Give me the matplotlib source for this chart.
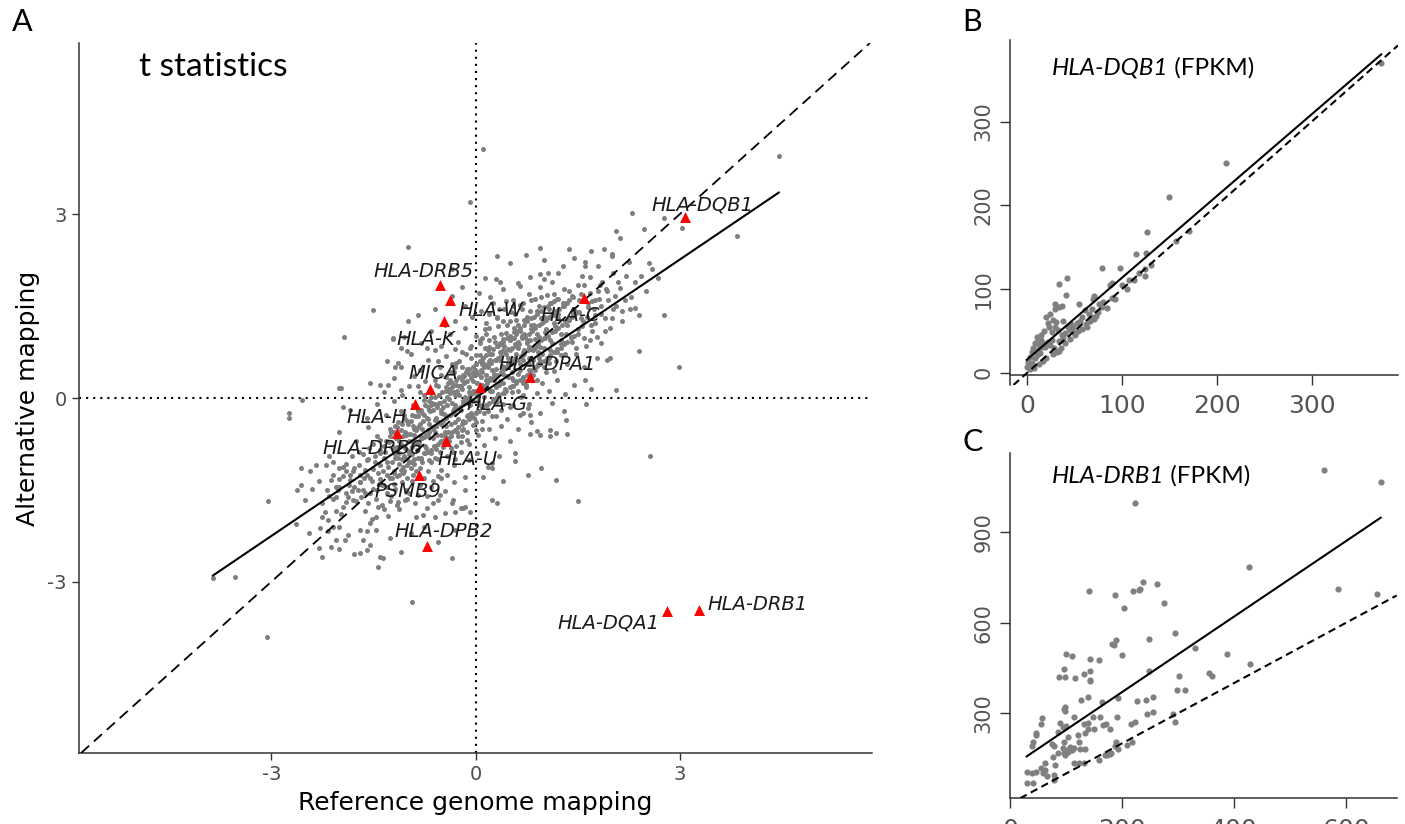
import numpy as np
import matplotlib.pyplot as plt

plt.rcParams['axes.unicode_minus'] = False
plt.rcParams['font.family'] = ['DejaVu Sans']

# ---- panel A: t statistics (reference vs alternative mapping) ----
# sparse points around the cloud
a_outer = [(-0.08, 3.21), (0.11, 4.07), (4.46, 3.96), (3.85, 2.65), (2.3, 3.03), (2.48, 2.76),
           (2.77, 2.94), (3.04, 2.77), (2.07, 2.73), (2.13, 2.62), (1.89, 2.43), (2.0, 2.36),
           (2.01, 2.32), (2.26, 2.23), (2.55, 2.2), (2.43, 2.0), (2.69, 1.96), (2.77, 1.36),
           (2.27, 1.45), (2.35, 1.47), (2.4, 0.77), (2.99, 0.5), (2.06, 0.13), (1.98, 0.65),
           (1.93, 0.62), (1.61, 0.29), (1.63, -0.09), (1.38, 2.43), (1.45, 2.28), (1.61, 2.23),
           (1.61, 2.15), (1.29, 2.15), (0.31, 2.32), (0.74, 2.34), (0.36, 1.9), (0.66, 1.83),
           (0.14, 1.96), (0.8, 1.97), (0.95, 2.02), (1.07, 2.04), (1.21, 2.05), (1.56, 2.0),
           (1.83, 1.85), (-0.99, 2.46), (-1.51, 1.43), (-0.99, 1.25), (-1.94, 0.99), (-1.21, 0.96),
           (-1.98, 0.17), (-2.55, -0.03), (-2.74, -0.25), (-2.74, -0.32), (-1.95, -0.14),
           (2.57, -0.94), (1.5, -1.68), (1.18, -1.34), (0.96, -1.15), (0.77, -1.26), (0.41, -1.36),
           (0.24, -1.66), (0.31, -1.72), (-0.34, -2.62), (-0.33, -1.66), (-0.3, -1.86),
           (-0.18, -1.8), (-0.08, -1.86), (0.58, -0.9), (0.58, -1.03), (0.24, -1.07), (0.24, -1.15),
           (0.8, -0.58), (0.9, -0.54), (0.95, -0.6), (1.09, -0.53), (1.09, -0.62), (1.19, -0.57),
           (1.35, -0.58), (1.3, -0.22), (1.33, -0.36), (-0.16, -1.29), (0.11, -1.29), (0.81, -0.39),
           (0.8, -0.28), (0.7, -0.25), (0.77, -0.17), (-3.05, -1.68), (-3.86, -2.94), (-3.54, -2.92),
           (-0.94, -3.33), (-3.07, -3.91), (-2.62, -1.5), (-2.56, -1.42), (-2.4, -1.48), (-2.51, -1.67),
           (-2.64, -2.06), (-2.26, -2.6), (-2.09, -1.04), (-2.0, -1.15), (-1.9, -1.2), (-2.12, -1.34),
           (-1.85, -1.34), (-1.8, -1.2), (-1.7, -1.37), (-2.02, -1.5), (-1.87, -1.61), (-1.8, -1.67),
           (-1.95, -1.78), (-2.05, -1.61), (-2.22, -1.86), (-2.17, -1.99), (-2.09, -2.1), (-2.17, -2.18),
           (-2.0, -2.1), (-1.87, -2.24), (-2.05, -2.32), (-2.12, -2.43), (-2.0, -2.46), (-1.7, -2.54),
           (-1.6, -2.48), (-1.65, -2.32), (-1.6, -2.18), (-1.43, -2.76), (-1.36, -2.62), (-1.46, -1.94),
           (-1.46, -2.16), (-1.55, -2.05), (-0.77, -1.91), (-0.6, -1.94), (-0.75, -2.1), (-0.21, -1.8),
           (-0.16, -1.78), (-0.62, -1.72), (-0.89, -1.72), (-1.04, -1.67), (-1.16, -1.75), (-1.26, -1.69),
           (-1.43, -1.78), (-2.44, -1.2), (-2.56, -1.15), (-2.34, -1.09), (-2.29, -2.13), (-1.41, -2.59),
           (-1.7, -2.16), (-1.21, 0.98), (-1.09, 0.81), (-1.14, 0.57), (-1.19, 0.51), (-1.01, 0.76),
           (-1.41, 0.21), (-1.28, 0.21), (-2.0, 0.16), (-1.09, 0.13), (-0.72, 0.81),
           (0.5, 2.2), (1.0, 2.25), (1.7, 2.4), (-0.35, 2.1), (0.95, 2.45), (1.8, 2.15)]

# dense central cloud
a_core = [(0.05, 1.72), (0.22, 1.65), (0.4, 1.78), (0.55, 1.6), (0.62, 1.88), (0.78, 1.7), (0.88, 1.62),
          (0.95, 1.82), (1.05, 1.68), (1.12, 1.9), (1.2, 1.62), (1.3, 1.78), (1.42, 1.66), (1.5, 1.85),
          (1.68, 1.72), (1.75, 1.6), (1.92, 1.78), (2.05, 1.66), (-0.2, 1.82), (-0.35, 1.66), (0.3, 1.95),
          (0.7, 1.55), (1.0, 1.95), (1.35, 1.55), (1.6, 1.58),
          (-0.85, 1.35), (-0.6, 1.45), (-0.3, 1.25), (-0.15, 1.5), (-0.05, 1.32), (0.08, 1.42), (0.15, 1.22),
          (0.25, 1.55), (0.32, 1.3), (0.42, 1.45), (0.5, 1.25), (0.58, 1.38), (0.66, 1.52), (0.72, 1.28),
          (0.8, 1.42), (0.86, 1.2), (0.93, 1.5), (1.0, 1.33), (1.08, 1.45), (1.15, 1.22), (1.22, 1.38),
          (1.3, 1.5), (1.38, 1.28), (1.46, 1.42), (1.55, 1.3), (1.65, 1.48), (1.75, 1.35), (1.85, 1.5),
          (2.0, 1.3), (2.15, 1.42), (0.2, 1.38), (0.62, 1.2), (1.1, 1.55), (0.45, 1.58), (-0.45, 1.2),
          (-1.05, 1.0), (-0.8, 0.9), (-0.65, 1.1), (-0.5, 0.85), (-0.38, 1.05), (-0.25, 0.92), (-0.15, 1.15),
          (-0.08, 0.82), (0.0, 1.02), (0.07, 0.9), (0.14, 1.12), (0.2, 0.84), (0.27, 1.0), (0.33, 1.18),
          (0.38, 0.88), (0.45, 1.06), (0.51, 0.95), (0.57, 1.15), (0.63, 0.82), (0.69, 1.02), (0.75, 0.9),
          (0.82, 1.12), (0.88, 0.97), (0.95, 0.84), (1.02, 1.08), (1.1, 0.95), (1.17, 1.18), (1.25, 0.88),
          (1.33, 1.05), (1.42, 0.92), (1.5, 1.12), (1.6, 0.98), (1.72, 1.1), (1.85, 0.9), (0.1, 0.98),
          (0.4, 0.96), (0.6, 1.05), (0.78, 0.84), (-0.3, 0.8), (1.0, 0.98),
          (-1.3, 0.6), (-1.1, 0.5), (-0.95, 0.72), (-0.82, 0.45), (-0.7, 0.62), (-0.6, 0.78), (-0.52, 0.5),
          (-0.44, 0.68), (-0.36, 0.42), (-0.28, 0.58), (-0.2, 0.75), (-0.13, 0.48), (-0.06, 0.65), (0.0, 0.44),
          (0.06, 0.7), (0.12, 0.55), (0.18, 0.78), (0.24, 0.46), (0.3, 0.62), (0.36, 0.75), (0.42, 0.5),
          (0.48, 0.66), (0.54, 0.42), (0.6, 0.72), (0.66, 0.55), (0.72, 0.78), (0.78, 0.46), (0.85, 0.62),
          (0.92, 0.75), (1.0, 0.5), (1.08, 0.66), (1.16, 0.44), (1.25, 0.7), (1.35, 0.56), (1.48, 0.72),
          (1.6, 0.5), (1.78, 0.66), (-0.3, 0.5), (0.2, 0.6), (0.5, 0.58), (0.95, 0.6), (-0.55, 0.6),
          (0.1, 0.42), (0.7, 0.62), (0.4, 0.78),
          (-1.55, 0.25), (-1.35, 0.1), (-1.2, 0.32), (-1.08, 0.05), (-0.98, 0.2), (-0.9, 0.36), (-0.82, 0.1),
          (-0.74, 0.28), (-0.66, 0.02), (-0.58, 0.22), (-0.5, 0.38), (-0.44, 0.12), (-0.37, 0.3), (-0.3, 0.05),
          (-0.24, 0.2), (-0.17, 0.36), (-0.1, 0.1), (-0.04, 0.28), (0.02, 0.04), (0.09, 0.22), (0.15, 0.38),
          (0.21, 0.12), (0.27, 0.3), (0.33, 0.06), (0.4, 0.24), (0.46, 0.36), (0.53, 0.1), (0.6, 0.28),
          (0.67, 0.02), (0.74, 0.18), (0.82, 0.34), (0.9, 0.08), (0.98, 0.25), (1.08, 0.12), (1.2, 0.3),
          (1.32, 0.06), (1.45, 0.22), (1.7, 0.15), (-0.6, 0.3), (-0.2, 0.15), (0.3, 0.18), (0.55, 0.3),
          (-0.85, 0.2), (0.05, 0.15), (-0.35, 0.18), (0.7, 0.25),
          (-1.85, -0.2), (-1.6, -0.32), (-1.45, -0.1), (-1.32, -0.28), (-1.2, -0.05), (-1.1, -0.22),
          (-1.0, -0.38), (-0.92, -0.12), (-0.84, -0.3), (-0.76, -0.04), (-0.68, -0.2), (-0.6, -0.36),
          (-0.53, -0.08), (-0.46, -0.26), (-0.39, -0.02), (-0.32, -0.18), (-0.25, -0.34), (-0.18, -0.1),
          (-0.11, -0.28), (-0.04, -0.05), (0.03, -0.22), (0.1, -0.38), (0.17, -0.12), (0.24, -0.3),
          (0.31, -0.06), (0.38, -0.2), (0.46, -0.35), (0.55, -0.12), (0.65, -0.28), (0.78, -0.1),
          (0.95, -0.25), (1.12, -0.08), (-0.7, -0.15), (-0.3, -0.12), (0.1, -0.15), (-1.05, -0.28),
          (-0.5, -0.2), (0.4, -0.1),
          (-2.0, -0.55), (-1.75, -0.7), (-1.58, -0.48), (-1.45, -0.62), (-1.35, -0.78), (-1.26, -0.5),
          (-1.17, -0.66), (-1.08, -0.42), (-1.0, -0.58), (-0.92, -0.74), (-0.84, -0.48), (-0.76, -0.64),
          (-0.68, -0.42), (-0.6, -0.56), (-0.52, -0.72), (-0.44, -0.46), (-0.36, -0.62), (-0.28, -0.78),
          (-0.2, -0.52), (-0.12, -0.68), (-0.04, -0.44), (0.04, -0.6), (0.12, -0.76), (0.2, -0.5),
          (0.28, -0.66), (0.38, -0.45), (0.5, -0.7), (0.62, -0.5), (-0.9, -0.6), (-0.5, -0.6), (-0.2, -0.62),
          (-1.2, -0.55), (0.0, -0.52), (-0.7, -0.52),
          (-2.15, -0.95), (-1.9, -1.08), (-1.72, -0.88), (-1.6, -1.02), (-1.5, -1.16), (-1.4, -0.9),
          (-1.3, -1.05), (-1.22, -0.84), (-1.14, -0.98), (-1.06, -1.12), (-0.98, -0.86), (-0.9, -1.0),
          (-0.82, -1.15), (-0.74, -0.9), (-0.66, -1.04), (-0.58, -0.84), (-0.5, -1.18), (-0.42, -0.95),
          (-0.32, -1.1), (-0.22, -0.88), (-0.1, -1.02), (0.02, -0.9), (0.18, -1.12), (0.35, -0.95),
          (-1.0, -1.0), (-1.35, -0.98), (-0.6, -0.98),
          (-2.3, -1.35), (-2.05, -1.45), (-1.95, -1.28), (-1.82, -1.52), (-1.7, -1.38), (-1.6, -1.25),
          (-1.5, -1.48), (-1.4, -1.32), (-1.3, -1.56), (-1.2, -1.4), (-1.12, -1.26), (-1.02, -1.5),
          (-0.94, -1.36), (-0.85, -1.58), (-0.76, -1.3), (-0.66, -1.45), (-0.55, -1.28), (-0.45, -1.52),
          (-0.32, -1.38), (-0.15, -1.5), (-1.65, -1.5), (-1.25, -1.3),
          (-2.25, -1.72), (-1.98, -1.9), (-1.75, -1.68), (-1.62, -1.85), (-1.52, -1.98), (-1.38, -1.75),
          (-1.28, -1.92), (-1.12, -1.82), (-1.0, -1.65), (-0.88, -1.95), (-0.72, -1.8), (-0.55, -1.66),
          (-0.45, -1.88),
          (-2.45, -2.2), (-2.3, -2.45), (-1.92, -2.32), (-1.78, -2.55), (-1.55, -2.4), (-1.25, -2.28),
          (-1.1, -2.52), (-0.95, -2.2), (-0.55, -2.35), (-0.3, -2.15)]

# second pass over the densest part of the cloud
a_dense = [(-1.05, -0.95), (-0.98, -0.7), (-0.95, -1.15), (-0.9, -0.5), (-0.86, -0.85), (-0.82, -0.62),
           (-0.78, -1.05), (-0.74, -0.78), (-0.7, -0.35), (-0.66, -0.9), (-0.62, -0.66), (-0.58, -0.45),
           (-0.55, -1.0), (-0.51, -0.25), (-0.48, -0.8), (-0.45, -0.55), (-0.42, -0.12), (-0.39, -0.7),
           (-0.36, -0.42), (-0.33, -0.88), (-0.3, -0.26), (-0.27, -0.55), (-0.24, 0.05), (-0.21, -0.72),
           (-0.18, -0.38), (-0.15, -0.08), (-0.12, -0.55), (-0.09, 0.18), (-0.06, -0.25), (-0.03, 0.42),
           (0.0, -0.4), (0.03, 0.1), (0.06, -0.12), (0.09, 0.55), (0.12, 0.02), (0.15, 0.3), (0.18, -0.22),
           (0.21, 0.62), (0.24, 0.12), (0.27, 0.4), (0.3, -0.05), (0.33, 0.85), (0.36, 0.28), (0.39, 0.52),
           (0.42, 0.08), (0.45, 0.72), (0.48, 0.35), (0.51, 0.95), (0.54, 0.2), (0.57, 0.58), (0.6, 0.85),
           (0.63, 0.4), (0.66, 1.1), (0.69, 0.68), (0.72, 0.3), (0.75, 0.95), (0.78, 0.55), (0.81, 1.2),
           (0.84, 0.78), (0.87, 0.45), (0.9, 1.05), (0.93, 0.65), (0.96, 1.3), (1.0, 0.82), (1.04, 1.12),
           (1.08, 0.58), (1.12, 0.9), (1.16, 1.35), (1.2, 0.75), (1.25, 1.05), (-0.8, -0.2), (-0.6, -0.1),
           (-0.4, 0.25), (-0.2, 0.5), (0.0, 0.7), (0.2, 0.95), (0.4, 1.25), (-0.7, -1.2), (-0.5, -1.3),
           (-0.3, -1.0), (-0.1, -0.75), (0.1, -0.5), (0.3, -0.3), (0.5, -0.15), (0.7, 0.05), (0.9, 0.3),
           (-1.2, -1.2), (-1.0, -1.3), (-1.15, -0.8), (-1.3, -0.7), (-1.4, -1.1), (-0.35, 0.55),
           (-0.55, 0.2), (-0.75, 0.05), (0.15, 1.05), (0.35, 1.45), (0.55, 1.5), (1.3, 0.9),
           (-1.62, -1.18), (-1.57, -0.82), (-1.52, -1.35), (-1.48, -0.95), (-1.44, -1.22), (-1.4, -0.68),
           (-1.37, -1.42), (-1.33, -0.88), (-1.29, -1.12), (-1.26, -0.62), (-1.23, -1.3), (-1.19, -0.92),
           (-1.16, -0.48), (-1.13, -1.08), (-1.1, -0.75), (-1.07, -1.22), (-1.04, -0.55), (-1.01, -0.85),
           (-0.98, -1.05), (-0.95, -0.38), (-0.93, -0.92), (-0.9, -0.68), (-0.88, -1.2), (-0.85, -0.22),
           (-0.83, -0.75), (-0.8, -0.98), (-0.78, -0.5), (-0.75, -0.28), (-0.73, -0.82), (-0.7, -0.62),
           (-0.68, -1.02), (-0.65, -0.12), (-0.63, -0.48), (-0.61, -0.78), (-0.58, -0.32), (-0.56, -0.6),
           (-0.54, 0.05), (-0.52, -0.88), (-0.5, -0.42), (-0.48, -0.15), (-0.46, -0.68), (-0.44, 0.35),
           (-0.42, -0.3), (-0.4, -0.55), (-0.38, 0.12), (-0.36, -0.82), (-0.34, -0.08), (-0.32, 0.42),
           (-0.3, -0.4), (-0.28, 0.22), (-0.26, -0.62), (-0.24, 0.6), (-0.22, -0.2), (-0.2, 0.3),
           (-0.18, -0.5), (-0.16, 0.02), (-0.14, 0.72), (-0.12, -0.3), (-0.1, 0.4), (-0.08, -0.12),
           (-0.06, 0.85), (-0.04, 0.12), (-0.02, -0.32), (0.0, 0.55), (0.02, 0.25), (0.04, -0.05),
           (0.06, 0.95), (0.08, 0.35), (0.1, 0.62), (0.12, -0.25), (0.14, 0.82), (0.16, 0.18), (0.18, 0.5),
           (0.2, 1.15), (0.22, 0.32), (0.24, 0.72), (0.26, -0.02), (0.28, 0.92), (0.3, 0.48), (0.32, 1.32),
           (0.34, 0.22), (0.36, 0.62), (0.38, 1.05), (0.4, 0.4), (0.42, 0.85), (0.44, 0.15), (0.46, 1.2),
           (0.48, 0.55), (0.5, 0.78), (0.52, 1.4), (0.54, 0.32), (0.56, 0.98), (0.58, 0.65), (0.6, 1.28),
           (0.62, 0.12), (0.64, 0.88), (0.66, 0.45), (0.68, 1.45), (0.7, 0.75), (0.72, 1.05), (0.74, 0.22),
           (0.76, 1.32), (0.78, 0.65), (0.8, 0.95), (0.82, 1.6), (0.84, 0.38), (0.86, 1.18), (0.88, 0.82),
           (0.9, 1.42), (0.92, 0.55), (0.94, 1.0), (0.96, 1.65), (0.98, 0.72), (1.01, 1.25), (1.04, 0.42),
           (1.07, 1.48), (1.1, 0.78), (1.13, 1.1), (1.16, 1.7), (1.19, 0.6), (1.22, 1.3), (1.25, 0.95),
           (1.28, 1.55), (1.31, 0.72), (1.34, 1.2), (1.37, 1.75), (1.4, 1.0), (1.44, 1.38), (1.48, 0.82),
           (1.52, 1.6), (1.56, 1.18), (1.6, 1.85), (1.64, 1.32), (1.68, 0.95), (1.72, 1.58), (1.76, 1.22),
           (1.8, 1.75), (1.85, 1.38), (1.9, 1.1), (1.95, 1.6), (2.02, 1.45), (2.1, 1.9), (2.2, 1.6),
           (-1.9, -1.55), (-1.85, -1.25), (-1.78, -1.45), (-1.72, -1.1), (-1.68, -1.62), (-1.64, -1.3),
           (-1.58, -1.72), (-1.55, -1.55), (-1.46, -1.65), (-1.42, -1.4), (-1.34, -1.82), (-1.3, -1.25),
           (-1.24, -1.6), (-1.18, -1.48), (-1.14, -1.7), (-1.08, -1.38), (-0.98, -1.55), (-0.92, -1.25),
           (-0.82, -1.42), (-0.72, -1.6), (-0.62, -1.35), (-0.52, -1.58), (-0.42, -1.25), (-0.35, -1.72),
           (-2.1, -1.65), (-2.0, -1.32), (-2.18, -1.5)]

# third pass: the solid middle of the cloud
a_fill = [(-1.25, -1.3), (-1.23, -1.05), (-1.27, -0.72), (-1.24, -0.55), (-1.2, -1.22), (-1.18, -0.98),
          (-1.22, -0.8), (-1.19, -0.45), (-1.15, -1.28), (-1.13, -0.9), (-1.17, -0.66), (-1.14, -0.4),
          (-1.1, -1.18), (-1.08, -1.0), (-1.12, -0.7), (-1.09, -0.52), (-1.05, -1.2), (-1.03, -0.82),
          (-1.07, -0.62), (-1.04, -0.35), (-1.0, -1.1), (-0.98, -0.92), (-1.02, -0.6), (-0.99, -0.42),
          (-0.95, -1.05), (-0.93, -0.8), (-0.97, -0.58), (-0.94, -0.28), (-0.9, -1.08), (-0.88, -0.75),
          (-0.92, -0.45), (-0.89, -0.3), (-0.85, -0.98), (-0.83, -0.7), (-0.87, -0.52), (-0.84, -0.18),
          (-0.8, -1.0), (-0.78, -0.65), (-0.82, -0.42), (-0.79, -0.25), (-0.75, -0.9), (-0.73, -0.6),
          (-0.77, -0.38), (-0.74, -0.12), (-0.7, -0.88), (-0.68, -0.55), (-0.72, -0.32), (-0.69, -0.05),
          (-0.65, -0.85), (-0.63, -0.5), (-0.67, -0.22), (-0.64, -0.08), (-0.6, -0.78), (-0.58, -0.45),
          (-0.62, -0.2), (-0.59, 0.02), (-0.55, -0.75), (-0.53, -0.4), (-0.57, -0.15), (-0.54, 0.05),
          (-0.5, -0.7), (-0.48, -0.38), (-0.52, -0.08), (-0.49, 0.1), (-0.45, -0.62), (-0.43, -0.32),
          (-0.47, -0.05), (-0.44, 0.18), (-0.4, -0.65), (-0.38, -0.28), (-0.42, 0.02), (-0.39, 0.15),
          (-0.35, -0.55), (-0.33, -0.22), (-0.37, 0.08), (-0.34, 0.25), (-0.3, -0.52), (-0.28, -0.18),
          (-0.32, 0.1), (-0.29, 0.3), (-0.25, -0.48), (-0.23, -0.14), (-0.27, 0.12), (-0.24, 0.35),
          (-0.2, -0.42), (-0.18, -0.05), (-0.22, 0.2), (-0.19, 0.38), (-0.15, -0.4), (-0.13, -0.02),
          (-0.17, 0.25), (-0.14, 0.42), (-0.1, -0.35), (-0.08, 0.05), (-0.12, 0.28), (-0.09, 0.48),
          (-0.05, -0.3), (-0.03, 0.08), (-0.07, 0.32), (-0.04, 0.5), (0.0, -0.25), (0.02, 0.12),
          (-0.02, 0.38), (0.01, 0.55), (0.05, -0.22), (0.07, 0.18), (0.03, 0.4), (0.06, 0.6),
          (0.1, -0.15), (0.12, 0.2), (0.08, 0.45), (0.11, 0.65), (0.15, -0.12), (0.17, 0.25),
          (0.13, 0.5), (0.16, 0.7), (0.2, -0.08), (0.22, 0.3), (0.18, 0.55), (0.21, 0.72),
          (0.25, -0.05), (0.27, 0.35), (0.23, 0.58), (0.26, 0.8), (0.3, 0.0), (0.32, 0.38),
          (0.28, 0.62), (0.31, 0.85), (0.35, 0.05), (0.37, 0.42), (0.33, 0.65), (0.36, 0.9),
          (0.4, 0.08), (0.42, 0.48), (0.38, 0.7), (0.41, 0.92), (0.45, 0.12), (0.47, 0.5),
          (0.43, 0.75), (0.46, 0.98), (0.5, 0.18), (0.52, 0.55), (0.48, 0.8), (0.51, 1.02),
          (0.55, 0.2), (0.57, 0.6), (0.53, 0.82), (0.56, 1.08), (0.6, 0.25), (0.62, 0.62),
          (0.58, 0.88), (0.61, 1.1), (0.65, 0.3), (0.67, 0.68), (0.63, 0.92), (0.66, 1.15),
          (0.7, 0.35), (0.72, 0.72), (0.68, 0.98), (0.71, 1.2), (0.75, 0.38), (0.77, 0.78),
          (0.73, 1.0), (0.76, 1.25), (0.8, 0.42), (0.82, 0.8), (0.78, 1.05), (0.81, 1.3),
          (0.85, 0.48), (0.87, 0.85), (0.83, 1.1), (0.86, 1.32), (0.9, 0.52), (0.92, 0.9),
          (0.88, 1.15), (0.91, 1.38), (0.95, 0.55), (0.97, 0.95), (0.93, 1.2), (0.96, 1.42),
          (1.0, 0.6), (1.02, 0.98), (0.98, 1.22), (1.01, 1.48), (1.05, 0.65), (1.07, 1.02),
          (1.03, 1.28), (1.06, 1.5), (1.1, 0.7), (1.12, 1.08), (1.08, 1.32), (1.11, 1.55),
          (1.15, 0.75), (1.17, 1.1), (1.13, 1.38), (1.16, 1.58), (1.2, 0.8), (1.22, 1.15),
          (1.18, 1.42), (1.21, 1.62), (1.25, 0.82), (1.27, 1.2), (1.23, 1.45), (1.3, 0.88),
          (1.32, 1.25), (1.28, 1.5), (1.35, 0.92), (1.37, 1.28), (1.33, 1.55), (1.4, 0.98),
          (1.42, 1.32), (1.38, 1.6), (1.45, 1.02), (1.47, 1.38), (1.43, 1.65),
          (-1.3, -1.45), (-1.32, -0.7), (-1.36, -1.2), (-1.4, -0.85), (-1.45, -1.5), (-1.48, -1.05),
          (-1.5, -0.75), (-1.55, -1.3), (-1.58, -1.0), (-1.62, -1.55), (-1.65, -0.92), (-1.7, -1.25),
          (-1.73, -1.5), (-1.78, -1.15), (-1.82, -0.95), (-1.86, -1.42), (-1.9, -1.7), (-1.95, -1.12),
          (-2.0, -1.45), (-2.05, -1.85), (-2.1, -1.25), (-2.15, -1.6), (-2.2, -1.1), (-2.25, -1.95),
          (1.5, 1.05), (1.52, 1.4), (1.55, 1.7), (1.58, 1.25), (1.62, 0.85), (1.65, 1.55), (1.68, 1.98),
          (1.7, 1.2), (1.74, 1.45), (1.78, 1.0), (1.82, 1.62), (1.86, 1.9), (1.9, 1.3), (1.94, 1.75),
          (1.98, 1.15), (2.02, 2.05), (2.06, 1.5), (2.12, 1.8), (2.16, 1.25), (2.22, 2.0), (2.28, 1.65),
          (2.35, 1.9), (2.4, 1.35), (2.5, 1.75), (2.6, 2.1)]

genes = ['HLA-DQB1', 'HLA-DRB5', 'HLA-W', 'HLA-K', 'HLA-C', 'MICA', 'HLA-G', 'HLA-DPA1',
         'HLA-H', 'HLA-DRB6', 'HLA-U', 'PSMB9', 'HLA-DPB2', 'HLA-DQA1', 'HLA-DRB1']
gene_x = [3.08, -0.525, -0.38, -0.47, 1.59, -0.67, 0.06, 0.8, -0.89, -1.16, -0.44, -0.83, -0.72, 2.82, 3.29]
gene_y = [2.95, 1.85, 1.6, 1.25, 1.63, 0.14, 0.18, 0.34, -0.09, -0.57, -0.71, -1.26, -2.41, -3.48, -3.46]
label_x = [3.33, -0.76, 0.22, -0.73, 1.39, -0.62, 0.31, 1.05, -1.45, -1.52, -0.11, -1.0, -0.47, 1.96, 4.14]
label_y = [3.06, 1.97, 1.34, 0.87, 1.25, 0.31, -0.2, 0.46, -0.41, -0.92, -1.09, -1.62, -2.27, -3.76, -3.46]

fit_a = (0.752, 0.003)   # slope, intercept of the solid regression line

# ---- panel B: HLA-DQB1 FPKM ----
b_pts = [(373.3, 369.7), (209.3, 250.9), (149.8, 209.5), (126.6, 168.4), (170.2, 169.6), (156.5, 157.7),
         (115, 141.4), (125.2, 143.4), (124.2, 123.5), (124.2, 115.5), (130.2, 128.6), (78.8, 124.7),
         (97.8, 125), (107, 110.7), (112.2, 110.7), (118, 119.5), (41.9, 112.7), (33.4, 105.5),
         (40.5, 92.5), (29.6, 81.7), (29.6, 75.7), (36.2, 79.3), (54.2, 82.5), (79.2, 79), (87.2, 104.7),
         (89.7, 107.5), (70.7, 91.6), (69.4, 88.4), (65.4, 69.7), (67.9, 66.1), (60.9, 74.9), (57.3, 66.9),
         (55.6, 62.2), (52, 59), (48.6, 55), (45, 51), (43.3, 55), (39.8, 47.8), (36.2, 45), (48.6, 49),
         (89, 89.6), (20.1, 66.9), (21.5, 59), (22.9, 55), (33.4, 79), (29.2, 55), (32.7, 51), (25.7, 49),
         (33.4, 38), (33.4, 26), (31, 25), (22.2, 37), (25.7, 39), (18.7, 31), (10.6, 43), (11.6, 37.8),
         (14.4, 39), (16.9, 35.9), (8.1, 35), (6.4, 29), (4.6, 25.1), (2.8, 19), (1.1, 13.2), (-0.7, 7.2),
         (4.6, 11.2), (8.1, 17.2), (11.6, 27), (15.2, 31), (9.9, 21), (13.4, 23.1), (62, 58), (66, 62),
         (72, 68), (75, 72), (70, 64), (58, 52), (45, 40), (40, 36), (50, 45), (28, 30), (27, 22), (20, 18),
         (17, 14), (12, 10), (7, 6), (3, 5), (5, 9), (24, 33), (35, 30), (38, 41), (53, 50), (63, 55),
         (80, 84), (84, 77), (76, 82), (92, 88), (100, 105), (105, 100), (68, 76), (30, 60), (27, 63),
         (24, 70), (14, 45), (18, 50), (12, 33), (38, 62), (46, 58)]
fit_b = (0.976, 16.0)

# ---- panel C: HLA-DRB1 FPKM ----
c_pts = [(560.7, 1106.5), (661.9, 1066.7), (223.8, 996), (426.8, 783.9), (585, 712), (656, 695),
         (140.5, 706.5), (186.9, 692.2), (220.2, 706.5), (231, 708.7), (236.9, 735), (233, 712),
         (262.5, 728.6), (203.6, 649), (275, 665.6), (294, 567), (247.6, 545), (329.8, 516.5),
         (386.9, 497.7), (428.6, 462.3), (181.5, 529), (185, 525), (189.3, 543), (199.4, 493),
         (99.4, 497.7), (110, 489), (142.9, 481), (158.3, 477.8), (97, 448), (88, 420), (98.2, 420),
         (116.7, 417), (131.5, 429), (142.9, 439), (142.3, 406), (143, 411), (248, 439), (301, 423.6),
         (355, 434.6), (360.8, 422.5), (139.9, 354), (127.4, 344), (164.3, 338.7), (192.9, 349.6),
         (227.4, 339.8), (243.5, 345), (256, 354), (298.8, 378), (312.5, 378), (98.2, 322), (97, 313),
         (98.8, 307.6), (114.9, 287.7), (57.7, 285.5), (55.4, 263.4), (45.8, 233.6), (47, 228), (41, 206),
         (39.9, 191.7), (89.9, 266.7), (95.2, 253.4), (100.6, 258), (85.1, 238), (74.4, 198), (78.6, 191.7),
         (103, 222.5), (97, 206), (94, 184), (101, 178), (96, 168), (99, 163), (104, 172), (110, 178),
         (107, 189.3), (115, 184), (120.8, 228), (123.8, 204.5), (125.6, 180.5), (134, 180.5),
         (132.7, 264.5), (139.9, 266.7), (133.9, 233.6), (138.7, 249), (147.6, 287), (150.6, 249),
         (161.3, 287), (166.7, 261.5), (178, 249), (171.4, 264.5), (191.7, 287.7), (186.9, 191.7),
         (193.5, 180.5), (189.3, 206), (208.9, 195), (217.3, 206), (216.7, 265.5), (223.8, 272),
         (254.8, 304.3), (244, 297.6), (290.5, 298.7), (294, 270), (158.3, 145), (170, 160), (174, 163),
         (178, 165), (181, 167), (114.9, 136), (123.2, 134), (132.7, 134), (86.3, 167), (77.4, 156),
         (62.5, 136), (55.4, 119.8), (58.3, 102), (62.5, 112), (65.5, 92), (80.4, 128.6), (79.2, 95),
         (78, 79), (29.8, 104), (39.9, 101), (46.4, 104), (31, 67.8), (41.7, 67.8)]
fit_c = (1.252, 119.7)

a_x, a_y = np.array(a_outer + a_core + a_dense + a_fill).T
b_x, b_y = np.array(b_pts).T
c_x, c_y = np.array(c_pts).T

W, H = 1405, 824
fig = plt.figure(figsize=(W / 100, H / 100), dpi=100)
axA = fig.add_axes([79 / W, 1 - 753 / H, 793 / W, 710 / H])
axB = fig.add_axes([1010 / W, 1 - 385 / H, 388 / W, 345 / H])
axC = fig.add_axes([1010 / W, 1 - 798.3 / H, 386.7 / W, 345 / H])

grey = '#7f7f7f'
dash = (0, (6, 3.6))

# panel A
axA.scatter(a_x, a_y, s=13, c=grey, linewidths=0, zorder=2)
axA.axhline(0, color='black', lw=1.5, ls=(0, (1, 2.4)), zorder=1)
axA.axvline(0, color='black', lw=1.5, ls=(0, (1, 2.4)), zorder=1)
axA.axline((0, 0), slope=1, color='black', lw=1.3, ls=dash, zorder=3)
xs = np.array([a_x.min(), a_x.max()])
axA.plot(xs, fit_a[0] * xs + fit_a[1], color='black', lw=1.5, zorder=3)
axA.scatter(gene_x, gene_y, marker='^', s=62, c='red', linewidths=0, zorder=4)
for g, lx, ly in zip(genes, label_x, label_y):
    axA.text(lx, ly, g, ha='center', va='baseline', fontsize=14, style='italic',
             color='#1a1a1a', zorder=5)
axA.set_xlim(-5.83, 5.83)
axA.set_ylim(-5.8, 5.8)
axA.set_xticks([-3, 0, 3])
axA.set_yticks([-3, 0, 3])
axA.tick_params(labelsize=14, labelcolor='#4d4d4d', color='#333333', length=5, width=1, pad=4)
axA.set_xlabel('Reference genome mapping', fontsize=18, labelpad=5)
axA.set_ylabel('Alternative mapping', fontsize=18, labelpad=5)
axA.text(0.076, 0.9535, 't statistics', transform=axA.transAxes, fontsize=24,
         family='Lato', va='baseline')

# panels B and C
for ax, x, y, fit in [(axB, b_x, b_y, fit_b), (axC, c_x, c_y, fit_c)]:
    ax.scatter(x, y, s=20, c='#808080', linewidths=0, zorder=2)
    ax.axline((0, 0), slope=1, color='black', lw=1.5, ls=(0, (3.6, 2.2)), zorder=3)
    xs = np.array([x.min(), x.max()])
    ax.plot(xs, fit[0] * xs + fit[1], color='black', lw=1.5, zorder=3)
    ax.tick_params(axis='x', labelsize=18, pad=7)
    ax.tick_params(axis='y', labelsize=15, labelrotation=90, pad=5)
    ax.tick_params(labelcolor='#555555', color='#333333', length=7, width=1)

axB.set_xlim(-18.3, 391)
axB.set_ylim(-14.7, 397.5)
axB.spines['bottom'].set_position(('data', -2.7))
axB.set_xticks([0, 100, 200, 300])
axB.set_yticks([0, 100, 200, 300])

axC.set_xlim(0, 690.5)
axC.set_ylim(18, 1162)
axC.set_xticks([0, 200, 400, 600])
axC.set_yticks([300, 600, 900])

for ax in (axB, axC):
    for lab in ax.get_yticklabels():
        lab.set_va('center')

for ax, ty, name in [(axB, 0.901, 'HLA-DQB1'), (axC, 0.915, 'HLA-DRB1')]:
    t = ax.text(0.107, ty, name, transform=ax.transAxes, fontsize=17.5, family='Lato',
                style='italic', va='baseline')
    ax.annotate(' (FPKM)', xy=(1, 0), xycoords=t, va='bottom', fontsize=17.5, family='Lato')

for ax in (axA, axB, axC):
    for s in ('top', 'right'):
        ax.spines[s].set_visible(False)
    for s in ('left', 'bottom'):
        ax.spines[s].set_color('#333333')
        ax.spines[s].set_linewidth(1.1)

for lx, ly, letter in [(12 / W, 1 - 8 / H, 'A'), (962 / W, 1 - 8 / H, 'B'), (962 / W, 1 - 428 / H, 'C')]:
    fig.text(lx, ly, letter, fontsize=22, family='Lato', va='top')

fig.savefig('out.png', dpi=100)
